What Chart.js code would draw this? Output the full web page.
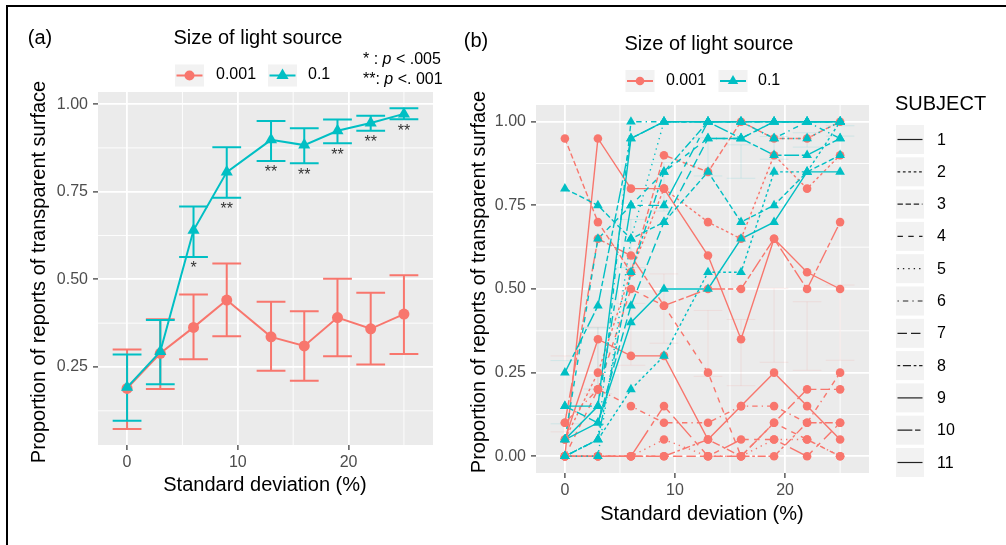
<!DOCTYPE html>
<html><head><meta charset="utf-8">
<script src="https://cdn.jsdelivr.net/npm/chart.js@4.4.1/dist/chart.umd.min.js"></script>
<style>
body{margin:0;width:1006px;height:545px;background:#fff;position:relative;overflow:hidden;font-family:"Liberation Sans",Arial,Helvetica,sans-serif;color:#000;}
canvas{position:absolute;top:0;}
#cA{left:0;} #cB{left:460px;}
.t{position:absolute;white-space:nowrap;transform:translate(-50%,-50%);line-height:1;}
.l{position:absolute;white-space:nowrap;transform:translate(0,-50%);line-height:1;}
.big{font-size:20px;}
.mid{font-size:16px;}
.rot{transform:translate(-50%,-50%) rotate(-90deg);}
.frame{position:absolute;background:#000;}
svg{position:absolute;left:0;top:0;}
</style></head>
<body>
<div class="frame" style="left:6px;top:5px;width:1000px;height:2px"></div>
<div class="frame" style="left:6px;top:5px;width:2px;height:540px"></div>
<canvas id="cA" width="460" height="545"></canvas>
<canvas id="cB" width="546" height="545"></canvas>
<svg id="keys" width="1006" height="545"></svg>

<div class="t big" style="left:40px;top:37px">(a)</div>
<div class="t big" style="left:258px;top:37px">Size of light source</div>
<div class="l mid" style="left:216px;top:74px">0.001</div>
<div class="l mid" style="left:308px;top:74px">0.1</div>
<div class="l mid" style="left:363px;top:59px">* : <i>p</i> &lt; .005</div>
<div class="l mid" style="left:363px;top:79px">**: <i>p</i> &lt;. 001</div>
<div class="t big rot" style="left:38px;top:272px">Proportion of reports of transparent surface</div>
<div class="t big" style="left:265px;top:484px">Standard deviation (%)</div>

<div class="t big" style="left:476px;top:40px">(b)</div>
<div class="t big" style="left:709px;top:43px">Size of light source</div>
<div class="l mid" style="left:666px;top:80px">0.001</div>
<div class="l mid" style="left:758px;top:80px">0.1</div>
<div class="t big rot" style="left:478px;top:282px">Proportion of reports of transparent surface</div>
<div class="t big" style="left:702px;top:513px">Standard deviation (%)</div>
<div class="l big" style="left:895px;top:103px">SUBJECT</div>
<div id="subjLabels"></div>

<script>
// ---------- data ----------
const xValues = [0, 3, 6, 9, 13, 16, 19, 22, 25];
const sizeLabels = ["0.001", "0.1"];
const meanSmall = [0.189, 0.289, 0.363, 0.441, 0.336, 0.310, 0.391, 0.359, 0.401];
const lowSmall  = [0.073, 0.187, 0.272, 0.338, 0.239, 0.211, 0.281, 0.257, 0.287];
const highSmall = [0.300, 0.386, 0.457, 0.545, 0.436, 0.409, 0.502, 0.462, 0.512];
const meanLarge = [0.192, 0.294, 0.640, 0.806, 0.898, 0.883, 0.924, 0.946, 0.972];
const lowLarge  = [0.097, 0.201, 0.564, 0.733, 0.838, 0.831, 0.888, 0.924, 0.957];
const highLarge = [0.286, 0.384, 0.708, 0.877, 0.952, 0.931, 0.956, 0.967, 0.988];
const sigLabels = ["", "", "*", "**", "**", "**", "**", "**", "**"];
const xTicks = [0, 10, 20];
const yTicksA = [0.25, 0.50, 0.75, 1.00];
const yTicksB = [0.00, 0.25, 0.50, 0.75, 1.00];
const subjects = ["1","2","3","4","5","6","7","8","9","10","11"];
// per-subject proportions, size 0.001
const subjSmall = [
  [0.00, 0.95, 0.80, 0.80, 0.60, 0.35, 0.65, 0.55, 0.50],
  [0.05, 0.25, 0.55, 0.80, 0.70, 0.65, 0.90, 0.80, 0.90],
  [0.95, 0.70, 0.55, 0.90, 0.85, 1.00, 0.95, 0.95, 1.00],
  [0.00, 0.20, 0.50, 0.45, 0.25, 0.00, 0.10, 0.05, 0.00],
  [0.00, 0.00, 0.00, 0.05, 0.00, 0.00, 0.05, 0.05, 0.00],
  [0.10, 0.20, 0.15, 0.10, 0.10, 0.15, 0.15, 0.10, 0.25],
  [0.00, 0.00, 0.00, 0.00, 0.00, 0.00, 0.10, 0.20, 0.20],
  [0.00, 0.00, 0.00, 0.00, 0.05, 0.00, 0.00, 0.10, 0.10],
  [0.05, 0.35, 0.30, 0.30, 0.05, 0.15, 0.25, 0.15, 0.05],
  [0.10, 0.65, 0.60, 0.45, 0.50, 0.50, 0.65, 0.50, 0.70],
  [0.00, 0.00, 0.00, 0.15, 0.00, 0.05, 0.05, 0.00, 0.10]
];
// per-subject proportions, size 0.1
const subjLarge = [
  [0.05, 0.15, 0.95, 1.00, 1.00, 1.00, 1.00, 1.00, 1.00],
  [0.00, 0.05, 0.20, 0.30, 0.55, 0.55, 0.85, 0.85, 1.00],
  [0.80, 0.75, 0.65, 0.70, 0.85, 0.70, 0.75, 0.85, 0.90],
  [0.05, 0.65, 0.75, 0.85, 0.95, 0.95, 1.00, 1.00, 1.00],
  [0.00, 0.00, 0.65, 1.00, 1.00, 1.00, 0.95, 0.95, 1.00],
  [0.00, 0.05, 1.00, 1.00, 1.00, 1.00, 0.95, 1.00, 0.95],
  [0.15, 0.10, 0.45, 0.70, 0.95, 0.95, 1.00, 1.00, 1.00],
  [0.00, 0.05, 0.55, 0.85, 1.00, 1.00, 1.00, 1.00, 1.00],
  [0.05, 0.10, 0.40, 0.50, 0.50, 0.65, 0.70, 0.85, 0.85],
  [0.25, 0.45, 0.95, 1.00, 1.00, 0.95, 0.90, 0.90, 0.95],
  [0.15, 0.15, 0.75, 0.75, 1.00, 1.00, 1.00, 1.00, 1.00]
];

// ---------- styles ----------
const RED = '#F8766D', TEAL = '#00BFC4';
const FONT = '"Liberation Sans", Arial, Helvetica, sans-serif';
const u = 1.35;
const dashes = [[], [2,2], [4,2], [4,4], [1,3], [1,3,4,3], [7,3], [2,2,6,2], [], [11,2,4,2], [20,4,4,4,8,4,4,4]]
  .map(d => d.map(v => v * u));
const errHalf = 1.3;

function pts(ys) { return xValues.map((x, i) => ({x: x, y: ys[i]})); }

const panelPlugin = {
  id: 'panel',
  beforeDraw(chart, args, o) {
    const {ctx, chartArea: a, scales: {x, y}} = chart;
    ctx.save();
    ctx.fillStyle = '#ebebeb';
    ctx.fillRect(a.left, a.top, a.right - a.left, a.bottom - a.top);
    ctx.strokeStyle = '#ffffff';
    ctx.lineWidth = 0.9;
    o.minorX.forEach(v => { const p = x.getPixelForValue(v); if (p > a.left && p < a.right) { ctx.beginPath(); ctx.moveTo(p, a.top); ctx.lineTo(p, a.bottom); ctx.stroke(); }});
    o.minorY.forEach(v => { const p = y.getPixelForValue(v); if (p > a.top && p < a.bottom) { ctx.beginPath(); ctx.moveTo(a.left, p); ctx.lineTo(a.right, p); ctx.stroke(); }});
    ctx.restore();
  }
};
const errPlugin = {
  id: 'errbars',
  beforeDatasetsDraw(chart, args, o) {
    const {ctx, scales: {x, y}} = chart;
    ctx.save();
    o.sets.forEach(s => {
      ctx.strokeStyle = s.color; ctx.lineWidth = s.width; ctx.globalAlpha = s.alpha;
      xValues.forEach((xv, i) => {
        const px = x.getPixelForValue(xv), l = x.getPixelForValue(xv - errHalf), r = x.getPixelForValue(xv + errHalf);
        const lo = y.getPixelForValue(s.low[i]), hi = y.getPixelForValue(s.high[i]);
        ctx.beginPath();
        ctx.moveTo(l, hi); ctx.lineTo(r, hi);
        ctx.moveTo(px, hi); ctx.lineTo(px, lo);
        ctx.moveTo(l, lo); ctx.lineTo(r, lo);
        ctx.stroke();
      });
    });
    ctx.restore();
  },
  afterDatasetsDraw(chart, args, o) {
    if (!o.stars) return;
    const {ctx, scales: {x, y}} = chart;
    ctx.save();
    ctx.fillStyle = '#333333';
    ctx.font = '16px ' + FONT;
    ctx.textAlign = 'center'; ctx.textBaseline = 'top';
    sigLabels.forEach((s, i) => { if (s) ctx.fillText(s, x.getPixelForValue(xValues[i]), y.getPixelForValue(lowLarge[i]) + 4); });
    ctx.restore();
  }
};

function minorOf(ticks, min, max) {
  const step = ticks[1] - ticks[0], out = [];
  for (let v = ticks[0] - step / 2; v < max; v += step) if (v > min) out.push(v);
  return out;
}

function scales(xmin, xmax, ymin, ymax, yTicks, yW, xH) {
  const grid = {color: '#ffffff', lineWidth: 1.8, tickColor: '#333333', tickLength: 5, tickWidth: 1.2};
  return {
    x: {type: 'linear', min: xmin, max: xmax,
        afterBuildTicks: s => { s.ticks = xTicks.map(v => ({value: v})); },
        afterFit: s => { s.height = xH; },
        grid: grid, border: {display: false},
        ticks: {color: '#4d4d4d', font: {family: FONT, size: 16}, padding: 3, maxRotation: 0, callback: v => String(v)}},
    y: {type: 'linear', min: ymin, max: ymax,
        afterBuildTicks: s => { s.ticks = yTicks.map(v => ({value: v})); },
        afterFit: s => { s.width = yW; },
        grid: grid, border: {display: false},
        ticks: {color: '#4d4d4d', font: {family: FONT, size: 16}, padding: 5, callback: v => Number(v).toFixed(2)}}
  };
}

Chart.defaults.font.family = FONT;

// ---------- panel (a) ----------
new Chart(document.getElementById('cA'), {
  type: 'line',
  data: {datasets: [
    {label: sizeLabels[0], data: pts(meanSmall), borderColor: RED, backgroundColor: RED, borderWidth: 2,
     pointStyle: 'circle', pointRadius: 5.5, pointBorderWidth: 0, pointBackgroundColor: RED, order: 2},
    {label: sizeLabels[1], data: pts(meanLarge), borderColor: TEAL, backgroundColor: TEAL, borderWidth: 2,
     pointStyle: 'triangle', pointRadius: 7, pointBorderWidth: 0, pointBackgroundColor: TEAL, order: 1}
  ]},
  options: {
    responsive: false, animation: false, devicePixelRatio: 1, events: [],
    layout: {padding: {left: 0, top: 92, right: 27, bottom: 0}},
    scales: scales(-2.625, 27.625, 0.0275, 1.0345, yTicksA, 98, 100),
    plugins: {legend: {display: false}, tooltip: {enabled: false},
      panel: {minorX: minorOf(xTicks, -2.625, 27.625), minorY: minorOf(yTicksA, 0.0275, 1.0345)},
      errbars: {stars: true, sets: [
        {low: lowSmall, high: highSmall, color: RED, width: 2, alpha: 1},
        {low: lowLarge, high: highLarge, color: TEAL, width: 2, alpha: 1}]}}
  },
  plugins: [panelPlugin, errPlugin]
});

// ---------- panel (b) ----------
const dsB = [];
subjSmall.forEach((ys, i) => dsB.push({label: sizeLabels[0] + ' S' + subjects[i], data: pts(ys), borderColor: RED,
  borderWidth: 1.4, borderDash: dashes[i], pointRadius: 0, order: 40}));
subjLarge.forEach((ys, i) => dsB.push({label: sizeLabels[1] + ' S' + subjects[i], data: pts(ys), borderColor: TEAL,
  borderWidth: 1.4, borderDash: dashes[i], pointRadius: 0, order: 30}));
dsB.push({label: sizeLabels[0] + ' points', data: subjSmall.flatMap(pts), showLine: false, pointStyle: 'circle',
  pointRadius: 4.3, pointBorderWidth: 0, pointBackgroundColor: RED, borderColor: RED, order: 20});
dsB.push({label: sizeLabels[1] + ' points', data: subjLarge.flatMap(pts), showLine: false, pointStyle: 'triangle',
  pointRadius: 5.6, pointBorderWidth: 0, pointBackgroundColor: TEAL, borderColor: TEAL, order: 10});

new Chart(document.getElementById('cB'), {
  type: 'line',
  data: {datasets: dsB},
  options: {
    responsive: false, animation: false, devicePixelRatio: 1, events: [],
    layout: {padding: {left: 0, top: 105, right: 137, bottom: 0}},
    scales: scales(-2.625, 27.625, -0.05, 1.05, yTicksB, 76, 72),
    plugins: {legend: {display: false}, tooltip: {enabled: false},
      panel: {minorX: minorOf(xTicks, -2.625, 27.625), minorY: minorOf(yTicksB, -0.05, 1.05)},
      errbars: {stars: false, sets: [
        {low: lowSmall, high: highSmall, color: RED, width: 1, alpha: 0.12},
        {low: lowLarge, high: highLarge, color: TEAL, width: 1, alpha: 0.12}]}}
  },
  plugins: [panelPlugin, errPlugin]
});

// ---------- legends (keys) ----------
const NS = 'http://www.w3.org/2000/svg';
const svg = document.getElementById('keys');
function el(tag, attrs) { const e = document.createElementNS(NS, tag); for (const k in attrs) e.setAttribute(k, attrs[k]); svg.appendChild(e); return e; }
function sizeKey(cx, cy, color, tri, r) {
  el('rect', {x: cx - 14.5, y: cy - 11, width: 29, height: 22, fill: '#f2f2f2'});
  el('line', {x1: cx - 13, y1: cy, x2: cx + 13, y2: cy, stroke: color, 'stroke-width': 2});
  if (tri) el('polygon', {points: `${cx},${cy - r} ${cx - r * 0.87},${cy + r * 0.5} ${cx + r * 0.87},${cy + r * 0.5}`, fill: color});
  else el('circle', {cx: cx, cy: cy, r: r, fill: color});
}
sizeKey(189.5, 75.5, RED, false, 5);
sizeKey(282.5, 75.5, TEAL, true, 7);
sizeKey(640, 81, RED, false, 4.3);
sizeKey(733, 81, TEAL, true, 6);

const labelBox = document.getElementById('subjLabels');
subjects.forEach((s, i) => {
  const cy = 139.5 + i * 32.3;
  el('rect', {x: 896, y: cy - 14.5, width: 28, height: 29, fill: '#f2f2f2'});
  const ln = el('line', {x1: 897.5, y1: cy, x2: 922.5, y2: cy, stroke: '#222', 'stroke-width': 1.2});
  if (dashes[i].length) ln.setAttribute('stroke-dasharray', dashes[i].join(' '));
  const d = document.createElement('div');
  d.className = 'l mid';
  d.style.left = '937px'; d.style.top = cy + 'px';
  d.textContent = s;
  labelBox.appendChild(d);
});
</script>
</body></html>
